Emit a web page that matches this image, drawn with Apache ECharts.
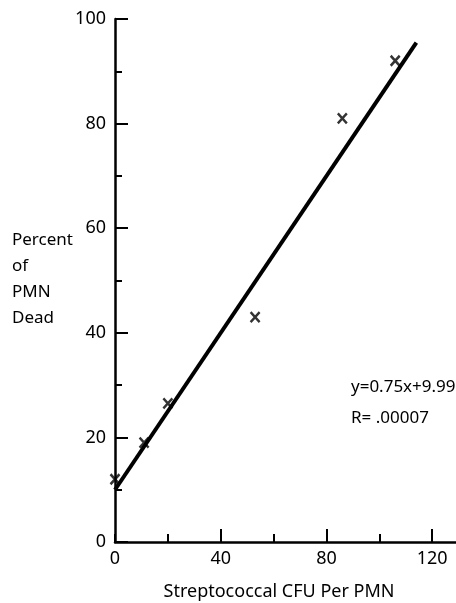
<!DOCTYPE html>
<html>
<head>
<meta charset="utf-8">
<script src="https://cdn.jsdelivr.net/npm/echarts@6/dist/echarts.min.js"></script>
<style>
  html, body { margin: 0; padding: 0; background: #fff; }
  #chart { width: 456px; height: 603px; }
</style>
</head>
<body>
<div id="chart"></div>
<script>
// Streptococcal CFU per PMN vs. percent of PMN dead
const cfuPerPmn   = [0, 11, 20, 53, 86, 106];
const percentDead = [12, 19, 26.5, 43, 81, 92];

// Least-squares fit shown on the plot
const fitSlope = 0.75;
const fitIntercept = 9.99;
const fitR = '.00007';
const fitXRange = [0, 114];

// Axis ticks and labels
const xMinorTicks = [0, 20, 40, 60, 80, 100, 120];
const xMajorTicks = [40, 80, 120];
const xLabels = [0, 40, 80, 120];
const yLabels = [0, 20, 40, 60, 80, 100];

const FONT = 'Noto Sans';
const INK = '#000';

const points = cfuPerPmn.map((x, i) => [x, percentDead[i]]);
const fitLine = fitXRange.map(x => [x, fitSlope * x + fitIntercept]);

const gridBox = { left: 115, right: 0, top: 19, bottom: 61 };

const chart = echarts.init(document.getElementById('chart'), null, { renderer: 'canvas' });

chart.setOption({
  animation: false,
  backgroundColor: '#fff',
  grid: [
    Object.assign({ containLabel: false }, gridBox),
    Object.assign({ containLabel: false }, gridBox)
  ],
  xAxis: [
    {
      gridIndex: 0, type: 'value', min: 0, max: 129,
      splitLine: { show: false },
      axisLine: { onZero: false, lineStyle: { color: INK, width: 2.5 } },
      axisTick: { inside: true, length: 8, customValues: xMinorTicks, lineStyle: { color: INK, width: 2 } },
      axisLabel: { customValues: xLabels, color: INK, fontFamily: FONT, fontSize: 18, margin: 8 }
    },
    {
      // longer ticks every 40 units
      gridIndex: 1, type: 'value', min: 0, max: 129, position: 'bottom',
      splitLine: { show: false },
      axisLine: { show: false, onZero: false },
      axisTick: { inside: true, length: 13, customValues: xMajorTicks, lineStyle: { color: INK, width: 2 } },
      axisLabel: { show: false }
    }
  ],
  yAxis: [
    {
      gridIndex: 0, type: 'value', min: 0, max: 100, interval: 20,
      splitLine: { show: false },
      axisLine: { onZero: false, lineStyle: { color: INK, width: 2.5 } },
      axisTick: { inside: true, length: 13, lineStyle: { color: INK, width: 2 } },
      minorTick: { show: true, splitNumber: 2, length: 7, lineStyle: { color: INK, width: 2 } },
      minorSplitLine: { show: false },
      axisLabel: { customValues: yLabels, color: INK, fontFamily: FONT, fontSize: 18, margin: 9 }
    },
    {
      gridIndex: 1, type: 'value', min: 0, max: 100, show: false
    }
  ],
  series: [
    {
      name: 'fit',
      type: 'line',
      xAxisIndex: 0, yAxisIndex: 0,
      data: fitLine,
      symbol: 'none',
      lineStyle: { color: INK, width: 4 },
      silent: true,
      z: 2
    },
    {
      name: 'observed',
      type: 'scatter',
      xAxisIndex: 0, yAxisIndex: 0,
      data: points,
      symbol: 'path://M0 0L10 11M10 0L0 11',
      symbolSize: [9, 10],
      itemStyle: { color: 'rgba(0,0,0,0)', borderColor: INK, borderWidth: 2.6 },
      silent: true,
      z: 3
    }
  ],
  graphic: [
    {
      type: 'text', left: 12, top: 227,
      style: {
        text: 'Percent\nof\nPMN\nDead',
        font: '17px "' + FONT + '"', fill: INK, lineHeight: 26
      }
    },
    {
      type: 'text', left: 351, top: 379,
      style: { text: 'y=' + fitSlope + 'x+' + fitIntercept, font: '17px "' + FONT + '"', fill: INK }
    },
    {
      type: 'text', left: 351, top: 410,
      style: { text: 'R= ' + fitR, font: '17px "' + FONT + '"', fill: INK }
    },
    {
      type: 'text', x: 279, y: 592,
      style: {
        text: 'Streptococcal CFU Per PMN',
        font: '18px "' + FONT + '"', fill: INK,
        align: 'center', verticalAlign: 'middle'
      }
    }
  ]
});
</script>
</body>
</html>
